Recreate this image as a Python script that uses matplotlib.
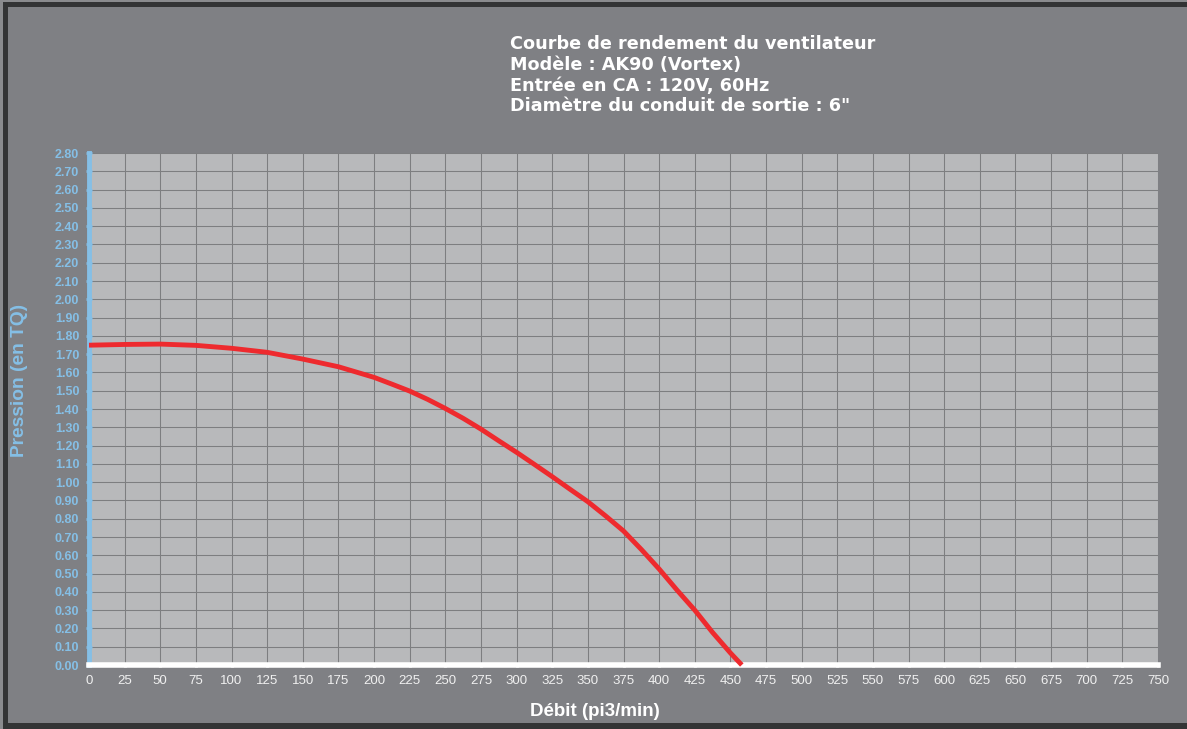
import matplotlib
matplotlib.use("Agg")
import matplotlib.pyplot as plt
from matplotlib.patches import Rectangle

# Data
flow = [0, 25, 50, 75, 100, 125, 150, 175, 200, 212.5, 225, 237.5, 250, 262.5, 275, 287.5, 300,
        312.5, 325, 337.5, 350, 362.5, 375, 387.5, 400, 412.5, 425, 437.5, 450, 458]
pressure = [1.749, 1.753, 1.755, 1.748, 1.732, 1.71, 1.673, 1.631, 1.573, 1.536, 1.498, 1.453,
            1.403, 1.349, 1.29, 1.226, 1.163, 1.097, 1.03, 0.961, 0.893, 0.815, 0.733, 0.632,
            0.525, 0.41, 0.30, 0.178, 0.066, 0.0]
x_ticks = list(range(0, 751, 25))
y_ticks = [round(i * 0.1, 2) for i in range(0, 29)]

title_lines = ["Courbe de rendement du ventilateur",
               "Modèle : AK90 (Vortex)",
               "Entrée en CA : 120V, 60Hz",
               "Diamètre du conduit de sortie : 6\""]

BG = "#7f8084"
PLOT_BG = "#b8b9bb"
GRID = "#7d7e80"
BLUE = "#85bfe6"
RED = "#ee2a2e"
DARK = "#333435"

W, H = 1187, 729
fig = plt.figure(figsize=(W / 100, H / 100), dpi=100)
fig.patch.set_facecolor(BG)


def frect(x0, y0, x1, y1, color):
    # rectangle in pixel coords (y from top)
    fig.patches.append(Rectangle((x0 / W, 1 - y1 / H), (x1 - x0) / W, (y1 - y0) / H,
                                 transform=fig.transFigure, facecolor=color,
                                 edgecolor="none", zorder=0))


frect(0, 0, W, 2, "#8a8b8e")
frect(0, 0, 3, H, "#8a8b8e")
frect(3, 2, W, 7, DARK)
frect(3, 2, 8, H, DARK)
frect(3, 723, W, H, DARK)

ax = fig.add_axes([89 / W, 1 - 665 / H, (1158 - 89) / W, (665 - 153) / H])
ax.set_facecolor(PLOT_BG)
ax.set_xlim(0, 750)
ax.set_ylim(0, 2.8)

ax.set_xticks(x_ticks)
ax.set_xticklabels([str(v) for v in x_ticks], color="#f0f0f0", fontsize=9.5,
                   family="Liberation Sans")
ax.set_yticks(y_ticks)
ax.set_yticklabels([f"{v:.2f}" for v in y_ticks], color=BLUE, fontsize=9,
                   fontweight="bold", family="Liberation Sans")

ax.grid(True, color=GRID, linewidth=0.75)
ax.set_axisbelow(True)

for s in ["top", "right"]:
    ax.spines[s].set_visible(False)
ax.spines["left"].set_color(BLUE)
ax.spines["left"].set_linewidth(3.5)
ax.spines["bottom"].set_color("white")
ax.spines["bottom"].set_linewidth(4)

ax.tick_params(axis="y", colors=BLUE, length=4, width=2, direction="inout", pad=5)
ax.tick_params(axis="x", colors="white", length=3, width=2, direction="inout", pad=6)
for lbl in ax.get_xticklabels():
    lbl.set_color("#f0f0f0")
for lbl in ax.get_yticklabels():
    lbl.set_color(BLUE)

ax.plot(flow, pressure, color=RED, linewidth=3.5, solid_capstyle="butt",
        solid_joinstyle="round", zorder=5, clip_on=False)

fig.text(595 / W, 1 - 712 / H, "Débit (pi3/min)", color="white", fontsize=13.5,
         fontweight="bold", ha="center", va="center", family="Liberation Sans")
fig.text(20 / W, 1 - 380 / H, "Pression (en TQ)", color=BLUE, fontsize=13.8,
         fontweight="bold", ha="center", va="center", rotation=90, family="Liberation Sans")

fig.text(510 / W, 1 - 35 / H, "\n".join(title_lines), color="white", fontsize=12.7,
         fontweight="bold", ha="left", va="top", linespacing=1.2)

fig.savefig("out.png", dpi=100, facecolor=BG)
